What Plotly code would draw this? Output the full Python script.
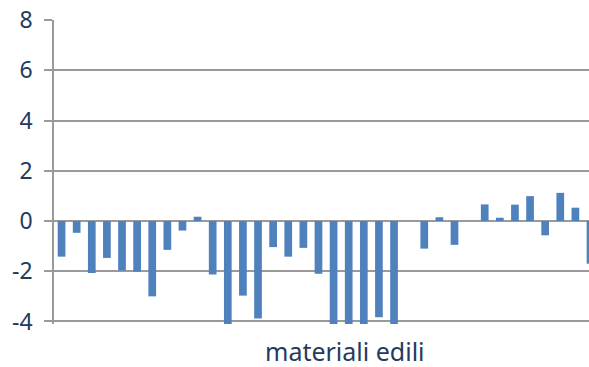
import plotly.graph_objects as go

categories = list(range(1, 37))
values = [-1.42, -0.47, -2.07, -1.47, -1.97, -2.02, -3.0, -1.15, -0.38, 0.17,
          -2.13, -4.3, -2.97, -3.88, -1.04, -1.42, -1.07, -2.1, -4.3, -4.3,
          -4.3, -3.83, -4.3, None, -1.1, 0.15, -0.95, None, 0.66, 0.13,
          0.65, 0.99, -0.57, 1.12, 0.53, -1.7]
y_ticks = [-4, -2, 0, 2, 4, 6, 8]
y_tick_labels = ["-4", "-2", "0", "2", "4", "6", "8"]
x_title = "materiali edili"

navy = "#243a5e"
grid = "#9a9a9a"

fig = go.Figure()
fig.add_trace(go.Bar(x=categories, y=values, marker=dict(color="#4f81bd", line=dict(width=0)),
                     width=0.51))

fig.update_layout(
    width=589, height=367,
    margin=dict(l=54, r=0, t=20, b=43),
    plot_bgcolor="white", paper_bgcolor="white",
    showlegend=False,
    font=dict(family="Noto Sans", color=navy, size=23),
)
fig.update_xaxes(range=[0.5, 35.9], showticklabels=False, showgrid=False,
                 zeroline=False, showline=False, ticks="")
fig.update_yaxes(range=[-4.1, 8], tickvals=y_ticks, ticktext=y_tick_labels,
                 showgrid=True, gridcolor=grid, gridwidth=1.6,
                 zeroline=True, zerolinecolor=grid, zerolinewidth=1.6,
                 showline=True, linecolor=grid, linewidth=1.6,
                 ticks="outside", ticklen=8, tickcolor=grid, tickwidth=1.6,
                 ticklabelstandoff=7,
                 tickfont=dict(size=23, color=navy))
fig.add_annotation(text=x_title, xref="paper", yref="paper", x=0.544, y=0,
                   xanchor="center", yanchor="middle", yshift=-27, showarrow=False,
                   font=dict(size=25, color=navy, family="Noto Sans"))

fig.write_html("out.html")
